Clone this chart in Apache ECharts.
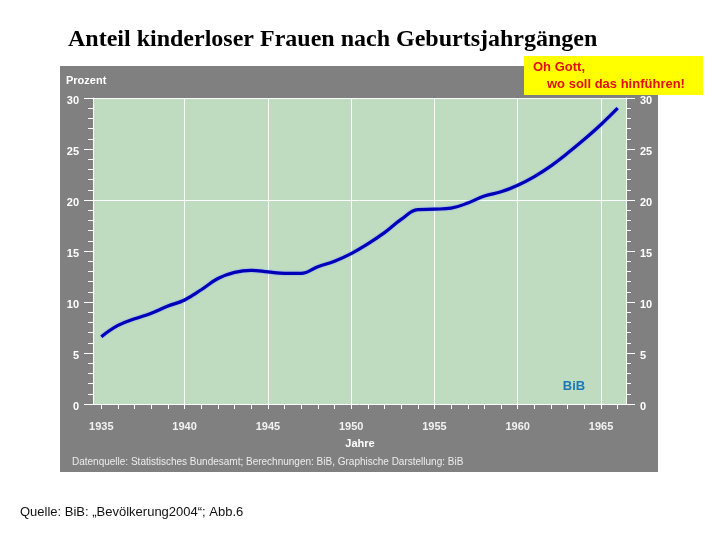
<!DOCTYPE html>
<html>
<head>
<meta charset="utf-8">
<script src="https://cdn.jsdelivr.net/npm/echarts@6/dist/echarts.min.js"></script>
<style>html,body{margin:0;padding:0;background:#fff;}#c{width:720px;height:540px;}</style>
</head>
<body>
<div id="c"></div>
<script>
var years = [1935,1936,1937,1938,1939,1940,1941,1942,1943,1944,1945,1946,1947,1948,1949,1950,
             1951,1952,1953,1954,1955,1956,1957,1958,1959,1960,1961,1962,1963,1964,1965,1966];
var shares = [6.6,7.7,8.35,8.9,9.6,10.2,11.2,12.3,12.9,13.1,12.95,12.8,12.8,13.45,14.0,14.75,
              15.7,16.8,18.1,19.05,19.1,19.2,19.7,20.4,20.8,21.45,22.3,23.35,24.6,25.95,27.4,29.0];
var xLabelYears = [1935,1940,1945,1950,1955,1960,1965];
var gridYears = [1940,1945,1950,1955,1960,1965];
var gridShares = [20,30];

var SANS = "'Liberation Sans', Arial, sans-serif";
var chart = echarts.init(document.getElementById('c'), null, {renderer:'canvas'});

var markData = gridYears.map(function(y){return {xAxis:y};}).concat(gridShares.map(function(v){return {yAxis:v};}));

function yAx(pos){
  return {
    type:'value', min:0, max:30, interval:5, position:pos,
    axisLine:{show:true, lineStyle:{color:'#ffffff', width:1}},
    axisTick:{show:true, length:9, lineStyle:{color:'#ffffff', width:1}},
    minorTick:{show:true, splitNumber:5, length:5, lineStyle:{color:'#ffffff', width:1}},
    axisLabel:{color:'#ffffff', fontWeight:'bold', fontSize:11, fontFamily:SANS, margin:14, verticalAlign:'top', lineHeight:6},
    splitLine:{show:false}, minorSplitLine:{show:false}
  };
}

chart.setOption({
  animation:false,
  backgroundColor:'#ffffff',
  graphic:[
    {type:'rect', z:-10, shape:{x:60, y:66, width:598, height:406}, style:{fill:'#808080'}},
    {type:'text', left:68, top:28, style:{text:'Anteil kinderloser Frauen nach Geburtsjahrgängen', font:"bold 24px 'Liberation Serif', 'Times New Roman', serif", fill:'#000000'}},
    {type:'text', x:66, y:81, style:{text:'Prozent', font:"bold 11px "+SANS, fill:'#ffffff', verticalAlign:'middle'}},
    {type:'text', x:360, y:444, style:{text:'Jahre', font:"bold 11px "+SANS, fill:'#ffffff', align:'center', verticalAlign:'middle'}},
    {type:'text', x:72, y:462, style:{text:'Datenquelle: Statistisches Bundesamt; Berechnungen: BiB, Graphische Darstellung: BiB', font:"10px "+SANS, fill:'#ececec', verticalAlign:'middle'}},
    {type:'text', x:574, y:386, z:10, style:{text:'BiB', font:"bold 13px "+SANS, fill:'#1a78b8', align:'center', verticalAlign:'middle'}},
    {type:'rect', z:20, shape:{x:524, y:56, width:179, height:39}, style:{fill:'#ffff00'}},
    {type:'text', z:21, x:533, y:67, style:{text:'Oh Gott,', font:"bold 13px "+SANS, fill:'#e01010', verticalAlign:'middle'}},
    {type:'text', z:21, x:547, y:84, style:{text:'wo soll das hinführen!', font:"bold 13px "+SANS, fill:'#e01010', verticalAlign:'middle'}},
    {type:'text', x:20, y:512, style:{text:'Quelle: BiB: „Bevölkerung2004“; Abb.6', font:"13px "+SANS, fill:'#111111', verticalAlign:'middle'}}
  ],
  grid:{left:93, top:98, width:533, height:306, show:true, backgroundColor:'#c0dcc0', borderWidth:0},
  xAxis:{
    type:'value', min:1934.5, max:1966.5,
    axisLine:{show:true, onZero:false, lineStyle:{color:'#ffffff', width:1}},
    axisTick:{show:true, length:5, customValues:years, lineStyle:{color:'#ffffff', width:1}},
    axisLabel:{show:true, customValues:xLabelYears, formatter:function(v){return String(v);}, color:'#f2f2f2', fontWeight:'bold', fontSize:11, fontFamily:SANS, margin:17},
    splitLine:{show:false}
  },
  yAxis:[yAx('left'), yAx('right')],
  series:[{
    type:'line',
    data:years.map(function(y,i){return [y, shares[i]];}),
    smooth:0.4,
    showSymbol:false,
    lineStyle:{color:'#0000b8', width:3.2, shadowColor:'rgba(120,150,255,0.9)', shadowBlur:2},
    markLine:{
      silent:true, symbol:'none', animation:false, z:1,
      label:{show:false},
      lineStyle:{color:'#ffffff', type:'solid', width:1},
      data:markData
    }
  }]
});
</script>
</body>
</html>
